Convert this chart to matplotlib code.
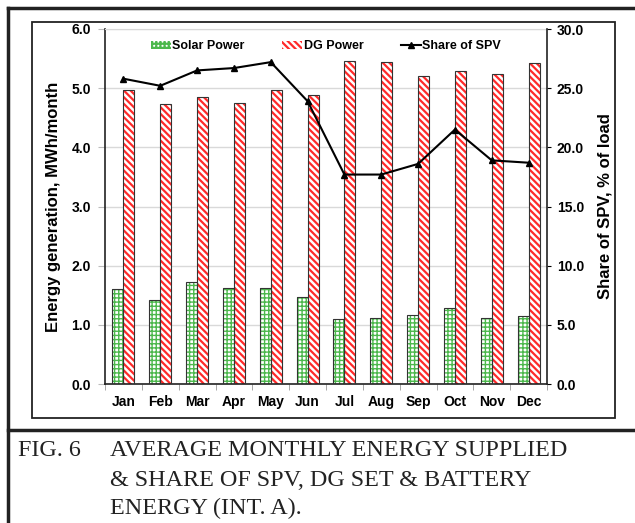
import matplotlib.pyplot as plt
import numpy as np
from matplotlib.patches import Rectangle, Patch
from matplotlib.lines import Line2D

# Data
months = ["Jan", "Feb", "Mar", "Apr", "May", "Jun",
          "Jul", "Aug", "Sep", "Oct", "Nov", "Dec"]
solar_power = [1.60, 1.42, 1.73, 1.62, 1.62, 1.47, 1.10, 1.12, 1.16, 1.29, 1.12, 1.15]
dg_power = [4.97, 4.73, 4.85, 4.75, 4.97, 4.88, 5.46, 5.44, 5.20, 5.29, 5.24, 5.42]
share_spv = [25.8, 25.2, 26.5, 26.7, 27.2, 23.9, 17.7, 17.7, 18.6, 21.5, 18.9, 18.7]

plt.rcParams['font.family'] = ['Liberation Sans', 'DejaVu Sans']

W, H = 635, 523
fig = plt.figure(figsize=(W / 100, H / 100), dpi=100)

green = '#4cb84c'
red = '#ff2a2a'
solar_hatch = '++++'
dg_hatch = '\\\\\\\\\\'

ax = fig.add_axes([105 / W, 1 - 384 / H, (547 - 105) / W, (384 - 29) / H])
x = np.arange(len(months))
width = 0.3

# hatched fill, then a dark outline on top
plt.rcParams['hatch.linewidth'] = 1.0
ax.bar(x - width / 2, solar_power, width, facecolor='white', edgecolor=green,
       hatch=solar_hatch, linewidth=0, zorder=2)
solar_handle = Patch(facecolor='white', edgecolor=green, hatch=solar_hatch, linewidth=0)
plt.rcParams['hatch.linewidth'] = 1.6
ax.bar(x + width / 2, dg_power, width, facecolor='white', edgecolor=red,
       hatch=dg_hatch, linewidth=0, zorder=2)
dg_handle = Patch(facecolor='white', edgecolor=red, hatch=dg_hatch, linewidth=0)
ax.bar(x - width / 2, solar_power, width, facecolor='none', edgecolor='#333333',
       linewidth=0.8, zorder=3)
ax.bar(x + width / 2, dg_power, width, facecolor='none', edgecolor='#333333',
       linewidth=0.8, zorder=3)

ax.set_xlim(-0.5, 11.5)
ax.set_ylim(0, 6)
ax.set_yticks(np.arange(0, 6.1, 1.0))
ax.set_yticklabels([f"{v:.1f}" for v in np.arange(0, 6.1, 1.0)],
                   fontsize=10, fontweight='bold')
ax.set_xticks(x)
ax.set_xticklabels(months, fontsize=10, fontweight='bold')
ax.set_xticks(np.arange(-0.5, 12, 1), minor=True)
ax.tick_params(axis='x', which='major', length=0, pad=8)
ax.tick_params(axis='x', which='minor', length=4, color='#999999', direction='out')
ax.tick_params(axis='y', length=5, color='#bbbbbb', pad=5)
ax.grid(axis='y', color='#d9d9d9', linewidth=1, zorder=0)
ax.set_axisbelow(True)
for s in ['left', 'bottom']:
    ax.spines[s].set_color('#222222')
    ax.spines[s].set_linewidth(1.2)
ax.spines['top'].set_color('#d9d9d9')
ax.spines['right'].set_visible(False)
ax.set_ylabel("Energy generation, MWh/month", fontsize=12, fontweight='bold',
              labelpad=8)

ax2 = ax.twinx()
ax2.plot(x, share_spv, color='black', linewidth=1.5, marker='^', markersize=5,
         zorder=4)
ax2.set_ylim(0, 30)
ax2.set_yticks(np.arange(0, 30.1, 5))
ax2.set_yticklabels([f"{v:.1f}" for v in np.arange(0, 30.1, 5)],
                    fontsize=10, fontweight='bold')
ax2.tick_params(axis='y', length=3, pad=4)
ax2.spines['right'].set_color('#222222')
ax2.spines['right'].set_linewidth(1.2)
for s in ['left', 'top', 'bottom']:
    ax2.spines[s].set_visible(False)
ax2.set_ylabel("Share of SPV, % of load", fontsize=12, fontweight='bold',
               labelpad=10)

handles = [
    solar_handle,
    dg_handle,
    Line2D([0], [0], color='black', linewidth=1.5, marker='^', markersize=5),
]
ax2.legend(handles, ["Solar Power", "DG Power", "Share of SPV"], loc='upper center',
           bbox_to_anchor=(0.5, 1.0), ncol=3, frameon=False,
           prop={'weight': 'bold', 'size': 9}, handlelength=1.6, handletextpad=0.1,
           columnspacing=3.0, handleheight=0.6)

# frames around the chart and caption
fig.add_artist(Rectangle((32 / W, 1 - 418 / H), (615 - 32) / W, (418 - 22) / H,
                         transform=fig.transFigure, fill=False,
                         edgecolor='#222222', linewidth=1.3))
fig.add_artist(Line2D([8 / W, 8 / W], [0, 1 - 8 / H], transform=fig.transFigure,
                      color='#222222', linewidth=2.5))
fig.add_artist(Line2D([8 / W, 1], [1 - 8 / H, 1 - 8 / H], transform=fig.transFigure,
                      color='#222222', linewidth=2.5))
fig.add_artist(Line2D([8 / W, 1], [1 - 430 / H, 1 - 430 / H], transform=fig.transFigure,
                      color='#222222', linewidth=2.5))

cap = dict(fontsize=17.4, family=['Liberation Serif', 'DejaVu Serif'],
           color='#222222', va='center', ha='left')
fig.text(18 / W, 1 - 451 / H, "FIG. 6", **cap)
fig.text(110 / W, 1 - 451 / H, "AVERAGE MONTHLY ENERGY SUPPLIED", **cap)
fig.text(110 / W, 1 - 480 / H, "& SHARE OF SPV, DG SET & BATTERY", **cap)
fig.text(110 / W, 1 - 508 / H, "ENERGY (INT. A).", **cap)

plt.savefig('out.png', dpi=100)
